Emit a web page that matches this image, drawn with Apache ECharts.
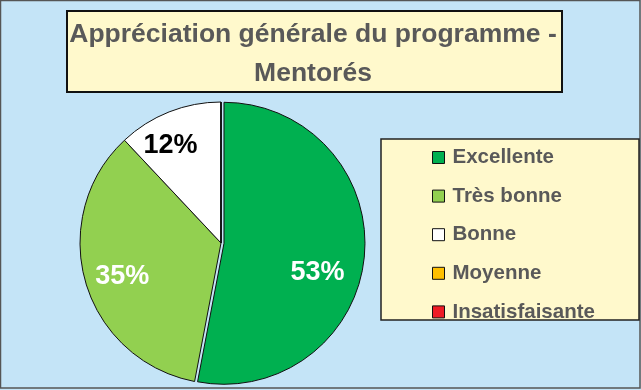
<!DOCTYPE html>
<html>
<head>
<meta charset="utf-8">
<script src="https://cdn.jsdelivr.net/npm/echarts@6/dist/echarts.min.js"></script>
<style>html,body{margin:0;padding:0;}#c{width:641px;height:390px;}</style>
</head>
<body>
<div id="c"></div>
<script>
const titleText = 'Appréciation générale du programme -\nMentorés';
const categories = ['Excellente', 'Très bonne', 'Bonne', 'Moyenne', 'Insatisfaisante'];
const values = [53, 35, 12, 0, 0];
const colors = ['#00B050', '#92D050', '#FFFFFF', '#FFC000', '#EE1C25'];
const labelColors = ['#FFFFFF', '#FFFFFF', '#000000', '#000000', '#000000'];
// label nudges (Excel "best fit" placement)
const labelNudge = [[-10, 19], [4, 4], [-11, 2], [0, 0], [0, 0]];

const chart = echarts.init(document.getElementById('c'));
const font = '"Liberation Sans", Arial, sans-serif';

const mainData = categories.map((n, i) => ({
  name: n, value: values[i], selected: i === 0,
  itemStyle: { color: colors[i] }
}));
const labelData = categories.map((n, i) => ({
  name: n, value: values[i],
  label: { show: values[i] > 0, color: labelColors[i], offset: labelNudge[i] }
}));

chart.setOption({
  backgroundColor: '#C4E4F7',
  animation: false,
  graphic: [
    { type: 'rect', silent: true, z: -1, shape: { x: 0.5, y: 0.5, width: 639.5, height: 387.5 },
      style: { fill: 'none', stroke: '#555', lineWidth: 1.5 } },
    { type: 'rect', silent: true, z: -1, shape: { x: 67, y: 11, width: 495, height: 81 },
      style: { fill: '#FFF9CC', stroke: '#111', lineWidth: 2 } },
    { type: 'rect', silent: true, z: -1, shape: { x: 381, y: 139, width: 258, height: 181 },
      style: { fill: '#FFF9CC', stroke: '#222', lineWidth: 1.5 } }
  ],
  title: {
    text: titleText, padding: 0,
    left: 313, textAlign: 'center', top: 15,
    textStyle: { fontFamily: font, fontSize: 26.5, fontWeight: 'bold', color: '#595959', lineHeight: 39 }
  },
  legend: {
    orient: 'vertical', left: 432, top: 147, padding: 0,
    itemWidth: 12, itemHeight: 12, itemGap: 17.6,
    icon: 'rect',
    data: categories.map((n, i) => ({ name: n, itemStyle: { color: colors[i], borderColor: '#111', borderWidth: 1 } })),
    textStyle: { fontFamily: font, fontSize: 20.5, fontWeight: 'bold', color: '#595959', lineHeight: 20, padding: [0, 0, 0, 3] }
  },
  series: [
    {
      type: 'pie', name: 'main',
      center: [221, 243], radius: 141,
      startAngle: 90, clockwise: true,
      selectedMode: 'single', selectedOffset: 3,
      stillShowZeroSum: false,
      itemStyle: { borderColor: '#111', borderWidth: 1 },
      label: { show: false }, labelLine: { show: false },
      emphasis: { disabled: true },
      data: mainData
    },
    {
      type: 'pie', name: 'labels', silent: true,
      center: [221, 243], radius: 208,
      startAngle: 90, clockwise: true,
      itemStyle: { color: 'rgba(0,0,0,0)', borderWidth: 0 },
      label: { position: 'inside', formatter: '{c}%', fontFamily: font, fontSize: 27, fontWeight: 'bold' },
      labelLine: { show: false },
      emphasis: { disabled: true },
      data: labelData
    }
  ]
});
</script>
</body>
</html>
